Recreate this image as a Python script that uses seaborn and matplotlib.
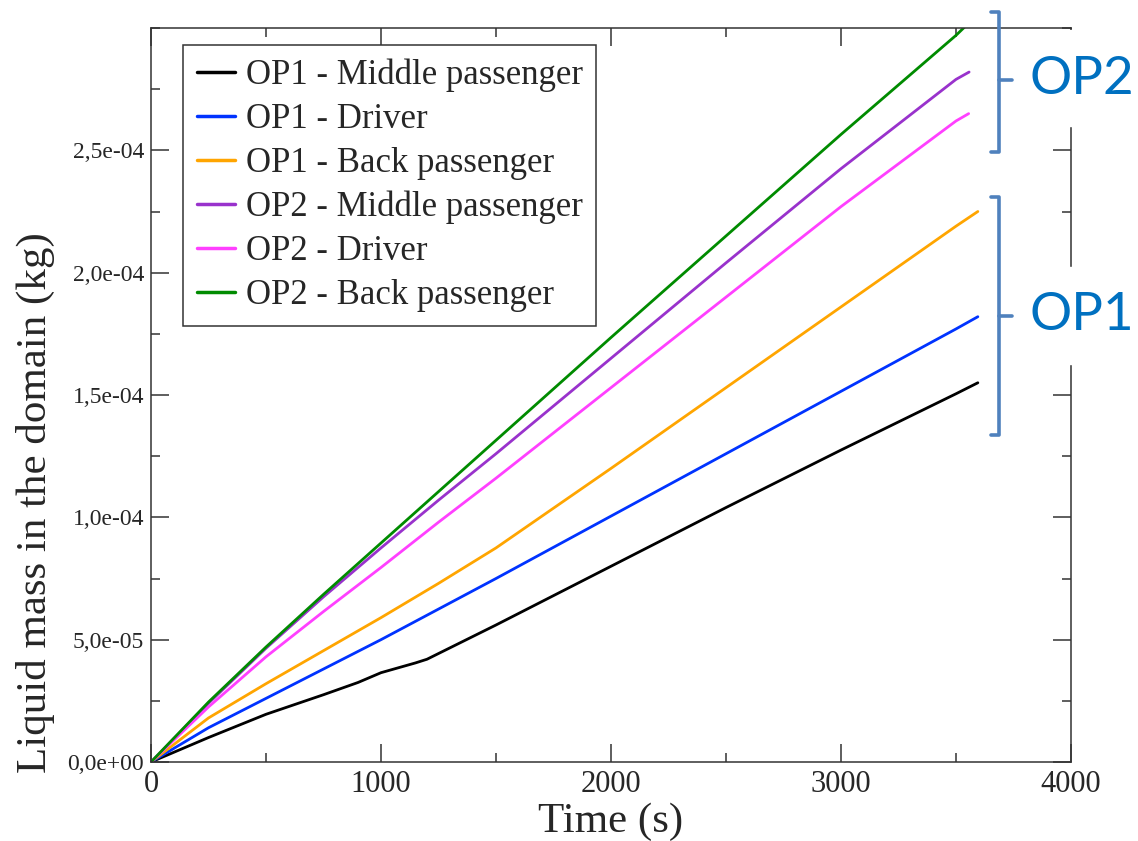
import matplotlib
matplotlib.use('Agg')
import matplotlib.pyplot as plt
from matplotlib.lines import Line2D
from matplotlib.patches import Rectangle
from matplotlib.ticker import FuncFormatter, MultipleLocator
import numpy as np
import pandas as pd
import seaborn as sns

# Valeurs : temps (s), masse (x1e-5 kg)
series_names = ['OP1 - Middle passenger', 'OP1 - Driver', 'OP1 - Back passenger',
                'OP2 - Middle passenger', 'OP2 - Driver', 'OP2 - Back passenger']
colors = ['#000000', '#0033ff', '#ffa500', '#9932cc', '#ff40ff', '#008b00']

t_op1_middle = [0, 250, 500, 750, 900, 1000, 1150, 1200, 1500, 2000, 2500, 3000, 3500, 3595]
m_op1_middle = [0, 1.0, 1.95, 2.75, 3.25, 3.65, 4.05, 4.2, 5.6, 8.0, 10.4, 12.75, 15.05, 15.5]

t_op1_driver = [0, 250, 500, 750, 1000, 1250, 1500, 2000, 2500, 3000, 3500, 3595]
m_op1_driver = [0, 1.4, 2.6, 3.8, 5.0, 6.25, 7.5, 10.05, 12.6, 15.15, 17.7, 18.2]

t_op1_back = [0, 250, 500, 750, 1000, 1250, 1500, 2000, 2500, 3000, 3500, 3595]
m_op1_back = [0, 1.8, 3.2, 4.55, 5.9, 7.3, 8.75, 12.0, 15.3, 18.6, 21.9, 22.5]

t_op2_middle = [0, 250, 500, 750, 1000, 1250, 1500, 2000, 2500, 3000, 3500, 3557]
m_op2_middle = [0, 2.4, 4.65, 6.75, 8.75, 10.7, 12.6, 16.5, 20.4, 24.25, 27.9, 28.2]

t_op2_driver = [0, 250, 500, 750, 1000, 1250, 1500, 2000, 2500, 3000, 3500, 3555]
m_op2_driver = [0, 2.25, 4.3, 6.15, 7.95, 9.8, 11.6, 15.3, 19.0, 22.7, 26.2, 26.5]

t_op2_back = [0, 250, 500, 750, 1000, 1250, 1500, 2000, 2500, 3000, 3500, 3555]
m_op2_back = [0, 2.45, 4.7, 6.85, 8.95, 11.05, 13.15, 17.35, 21.5, 25.65, 29.7, 30.2]

all_t = [t_op1_middle, t_op1_driver, t_op1_back, t_op2_middle, t_op2_driver, t_op2_back]
all_m = [m_op1_middle, m_op1_driver, m_op1_back, m_op2_middle, m_op2_driver, m_op2_back]

frames = []
for name, t, m in zip(series_names, all_t, all_m):
    frames.append(pd.DataFrame({'time': t, 'mass': np.array(m) * 1e-5, 'series': name}))
df = pd.concat(frames, ignore_index=True)

sns.set_style('ticks')
plt.rcParams['font.family'] = ['Liberation Serif', 'DejaVu Serif']

W, H = 1138, 841
fig = plt.figure(figsize=(W / 100, H / 100), dpi=100)
ax = fig.add_axes([151 / W, 1 - 762 / H, 920 / W, 734 / H])


def fx(px):
    return px / W


def fy(py):
    return 1 - py / H


sns.lineplot(data=df, x='time', y='mass', hue='series', hue_order=series_names,
             palette=dict(zip(series_names, colors)), estimator=None, sort=False,
             linewidth=2.0, ax=ax)

ax.set_xlim(0, 4000)
ax.set_ylim(0, 3e-4)
ax.set_xticks(np.arange(0, 4001, 1000))
ax.xaxis.set_minor_locator(MultipleLocator(500))
ax.set_yticks(np.arange(0, 2.6e-4, 5e-5))
ax.yaxis.set_minor_locator(MultipleLocator(2.5e-5))
ax.yaxis.set_major_formatter(FuncFormatter(lambda v, p: f'{v:.1e}'.replace('.', ',')))

ax.tick_params(axis='both', which='major', direction='in', length=13, width=1.1,
               top=True, right=True, color='#333333')
ax.tick_params(axis='both', which='minor', direction='in', length=6.5, width=1.1,
               top=True, right=True, color='#333333')
ax.tick_params(axis='x', labelsize=22, pad=6)
ax.tick_params(axis='y', labelsize=17, pad=5)
for s in ax.spines.values():
    s.set_linewidth(1.1)
    s.set_color('#333333')

ax.set_xlabel('Time (s)', fontsize=31, labelpad=2)
ax.set_ylabel('Liquid mass in the domain (kg)', fontsize=31)
ax.yaxis.set_label_coords(-0.104, 0.354)

handles, labels = ax.get_legend_handles_labels()
leg = ax.legend(handles, labels, loc='upper left', bbox_to_anchor=(0.0348, 0.9768),
                borderaxespad=0, prop={'family': 'Liberation Serif', 'size': 25},
                frameon=True, fancybox=False, edgecolor='#333333', framealpha=1,
                handlelength=1.1, handletextpad=0.3, labelspacing=0.31, borderpad=0.4)
leg.get_frame().set_linewidth(1.1)
for h in leg.get_lines():
    h.set_linewidth(2.5)

# caches blancs derriere les textes (cachent l'axe de droite)
fig.add_artist(Rectangle((fx(1020), fy(126)), fx(118), (126 - 30) / H,
                         transform=fig.transFigure, color='white', zorder=3))
fig.add_artist(Rectangle((fx(1020), fy(364)), fx(118), (364 - 267) / H,
                         transform=fig.transFigure, color='white', zorder=3))

# accolades OP2 / OP1
bracket_color = '#4f81bd'
for top, bottom, mid in [(12, 152, 80), (197, 435, 316)]:
    fig.add_artist(Line2D([fx(991), fx(999), fx(999), fx(991)],
                          [fy(top), fy(top), fy(bottom), fy(bottom)],
                          transform=fig.transFigure, color=bracket_color, lw=2.6,
                          solid_joinstyle='round', zorder=4))
    fig.add_artist(Line2D([fx(999), fx(1012)], [fy(mid), fy(mid)],
                          transform=fig.transFigure, color=bracket_color, lw=2.6, zorder=4))

fig.text(fx(1029), fy(79), 'OP2', color='#0070c0', fontsize=38, family='Lato',
         va='center', ha='left', zorder=5)
fig.text(fx(1030), fy(316), 'OP1', color='#0070c0', fontsize=38, family='Lato',
         va='center', ha='left', zorder=5)

fig.savefig('out.png', dpi=100)
